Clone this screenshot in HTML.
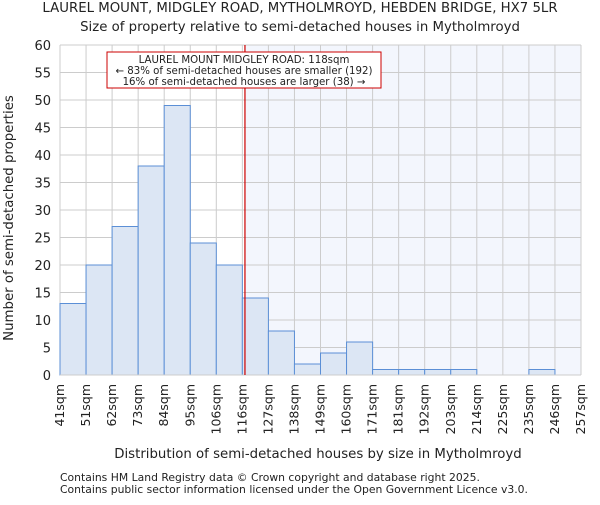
<!DOCTYPE html>
<html><head><meta charset="utf-8"><style>
body{margin:0;background:#fff;}
svg text{font-family:"DejaVu Sans","Liberation Sans",sans-serif;fill:#222;}
</style></head><body>
<svg id="c" width="600" height="500" xmlns="http://www.w3.org/2000/svg">
<text x="300" y="12" font-size="13.3" text-anchor="middle">LAUREL MOUNT, MIDGLEY ROAD, MYTHOLMROYD, HEBDEN BRIDGE, HX7 5LR</text>
<text x="300" y="31" font-size="13.3" text-anchor="middle">Size of property relative to semi-detached houses in Mytholmroyd</text>
<g id="g"></g>
<text x="318" y="458" font-size="13.3" text-anchor="middle">Distribution of semi-detached houses by size in Mytholmroyd</text>
<text transform="translate(13,218) rotate(-90)" font-size="13.3" text-anchor="middle">Number of semi-detached properties</text>
<text x="60" y="481" font-size="10.8" fill="#444">Contains HM Land Registry data © Crown copyright and database right 2025.</text>
<text x="60" y="493" font-size="10.8" fill="#444">Contains public sector information licensed under the Open Government Licence v3.0.</text>
</svg>
<script>
const labels=["41sqm","51sqm","62sqm","73sqm","84sqm","95sqm","106sqm","116sqm","127sqm","138sqm","149sqm","160sqm","171sqm","181sqm","192sqm","203sqm","214sqm","225sqm","235sqm","246sqm","257sqm"];
const counts=[13,20,27,38,49,24,20,14,8,2,4,6,1,1,1,1,0,0,1,0];
const yTicks=[0,5,10,15,20,25,30,35,40,45,50,55,60];
const markerBin=7.1;
const annLines=["LAUREL MOUNT MIDGLEY ROAD: 118sqm","← 83% of semi-detached houses are smaller (192)","16% of semi-detached houses are larger (38) →"];
const X0=60,X1=581,Y0=375,Y1=45,NS="http://www.w3.org/2000/svg";
const g=document.getElementById('g');
const bw=(X1-X0)/counts.length;
const x=i=>X0+i*bw, y=v=>Y0-(v/60)*(Y0-Y1);
function mk(t,a){const e=document.createElementNS(NS,t);for(const k in a)e.setAttribute(k,a[k]);g.appendChild(e);return e;}
const mx=x(markerBin);
let e=mk('rect',{x:mx,y:Y1,width:X1-mx,height:Y0-Y1,fill:'#f3f6fd'});


yTicks.forEach(t=>{let l=mk('line',{x1:X0,x2:X1,y1:y(t),y2:y(t),stroke:'#ccc'});


let tx=mk('text',{x:X0-9,y:y(t)+5,'font-size':13,'text-anchor':'end'});tx.textContent=t;

});
labels.forEach((s,i)=>{let l=mk('line',{x1:x(i),x2:x(i),y1:Y1,y2:Y0,stroke:'#ccc'});


let tx=mk('text',{transform:`translate(${x(i)+4},384) rotate(-90)`,'font-size':12.5,'text-anchor':'end'});tx.textContent=s;

});
counts.forEach((v,i)=>{if(!v)return;let r=mk('rect',{x:x(i),y:y(v),width:bw,height:Y0-y(v),fill:'#dce6f4',stroke:'#5b8fd6','stroke-width':1});

});
e=mk('line',{x1:X0,x2:X1,y1:Y0,y2:Y0,stroke:'#ccc'});


e=mk('line',{x1:mx,x2:mx,y1:Y1,y2:Y0,stroke:'#cc0000','stroke-width':1.2});


e=mk('rect',{x:107,y:52,width:274,height:36,fill:'#fff',stroke:'#cc0000'});


annLines.forEach((s,i)=>{let t=mk('text',{x:244,y:63+i*11,'font-size':10.2,'text-anchor':'middle'});t.textContent=s;

});
</script>
</body></html>
